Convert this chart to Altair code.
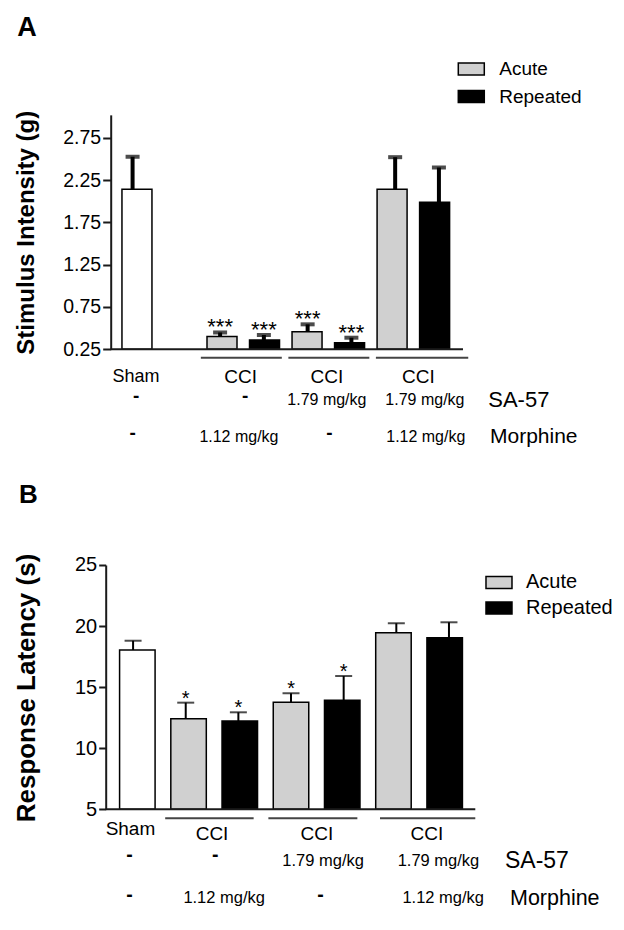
import altair as alt
import pandas as pd

FONT = "Liberation Sans"

# ---------------- data ----------------
treat = ["Sham", "Acute", "Repeated", "Acute", "Repeated", "Acute", "Repeated"]

# Panel A: stimulus intensity (g)
a_slot = [0, 2, 3, 4, 5, 6, 7]
a_mean = [2.14, 0.40, 0.36, 0.458, 0.328, 2.14, 1.987]
a_sem = [0.385, 0.049, 0.059, 0.087, 0.059, 0.38, 0.411]
a_stars = ["", "***", "***", "***", "***", "", ""]
a_ticks = [0.25, 0.75, 1.25, 1.75, 2.25, 2.75]
a_xdom = [-0.5, 7.55]
a_ydom = [0.25, 3.02]
a_under_start = [1.56, 3.56, 5.56]
a_under_end = [3.41, 5.41, 7.67]
a_names = ["CCI", "CCI", "CCI"]
a_names_slot = [2.47, 4.44, 6.53]
a_sham_slot = [0.08]
a_sa57 = ["-", "-", "1.79 mg/kg", "1.79 mg/kg"]
a_sa57_slot = [0.08, 2.57, 4.44, 6.68]
a_morph = ["-", "1.12 mg/kg", "-", "1.12 mg/kg"]
a_morph_slot = [0.0, 2.43, 4.5, 6.7]

# Panel B: response latency (s)
b_slot = [0, 1, 2, 3, 4, 5, 6]
b_mean = [18.04, 12.42, 12.23, 13.76, 13.92, 19.46, 19.05]
b_sem = [0.76, 1.31, 0.71, 0.74, 1.99, 0.77, 1.26]
b_stars = ["", "*", "*", "*", "*", "", ""]
b_ticks = [5, 10, 15, 20, 25]
b_xdom = [-0.52, 6.5]
b_ydom = [5, 25]
b_under_start = [0.61, 2.57, 4.69]
b_under_end = [2.29, 4.26, 6.5]
b_names = ["CCI", "CCI", "CCI"]
b_names_slot = [1.5, 3.49, 5.58]
b_sham_slot = [-0.05]
b_sa57 = ["-", "-", "1.79 mg/kg", "1.79 mg/kg"]
b_sa57_slot = [-0.07, 1.56, 3.61, 5.8]
b_morph = ["-", "1.12 mg/kg", "-", "1.12 mg/kg"]
b_morph_slot = [-0.07, 1.73, 3.56, 5.89]

color_scale = alt.Scale(domain=["Sham", "Acute", "Repeated"],
                        range=["#ffffff", "#d0d0d0", "#000000"])
LEG_PATH = "M-1,-0.46H1V0.46H-1Z"


def text_layer(texts, slots, xscale, ypx, size, only=None):
    rows = [(t, s) for t, s in zip(texts, slots)
            if only is None or (only == "dash") == (t == "-")]
    df = pd.DataFrame({"t": [r[0] for r in rows], "s": [r[1] for r in rows]})
    dash = only == "dash"
    return alt.Chart(df).mark_text(font=FONT, fontSize=(size + 3) if dash else size,
                                   fontWeight="bold" if dash else "normal",
                                   baseline="middle", align="center", color="black").encode(
        x=alt.X("s:Q", scale=xscale, axis=None),
        y=alt.value(ypx),
        text="t:N",
    )


def label(txt, xpx, ypx, size, weight="normal", baseline="middle"):
    return alt.Chart(pd.DataFrame({"t": [txt]})).mark_text(
        font=FONT, fontSize=size, fontWeight=weight, align="left",
        baseline=baseline, color="black").encode(
        x=alt.value(xpx), y=alt.value(ypx), text="t:N")


def panel(slot, mean, sem, stars, ticks, xdom, xrange_, ydom, yrange_, title,
          axis_offset, title_x, title_y, tick_size, label_size, title_size,
          bar_w, err_w, cap_w, star_size, leg_x, leg_y, leg_size, leg_off, leg_pad,
          fmt, u_start, u_end, u_y, base_w):
    xs = alt.Scale(domain=xdom, range=xrange_, nice=False, zero=False)
    ys = alt.Scale(domain=ydom, range=yrange_, nice=False, zero=False)
    df = pd.DataFrame({"slot": slot, "mean": mean, "sem": sem,
                       "treat": treat, "star": stars})
    df["top"] = df["mean"] + df["sem"]
    base = alt.Chart(df)
    yaxis = alt.Axis(values=ticks, format=fmt, orient="left", offset=axis_offset,
                     grid=False, domainColor="#1a1a1a", domainWidth=2,
                     tickColor="#1a1a1a", tickWidth=2, tickSize=tick_size,
                     labelFont=FONT, labelFontSize=label_size, labelColor="black",
                     labelPadding=2, title=title, titleFont=FONT,
                     titleFontSize=title_size, titleFontWeight="bold",
                     titleColor="black", titleAngle=270, titleBaseline="alphabetic",
                     titleAlign="center", titleX=title_x, titleY=title_y)
    bars = base.mark_bar(size=bar_w, stroke="black", strokeWidth=1.5).encode(
        x=alt.X("slot:Q", scale=xs, axis=None),
        y=alt.Y("mean:Q", scale=ys, axis=yaxis),
        y2=alt.datum(ydom[0]),
        color=alt.Color("treat:N", scale=color_scale,
                        legend=alt.Legend(title=None, orient="none", legendX=leg_x,
                                          legendY=leg_y, values=["Acute", "Repeated"],
                                          symbolType=LEG_PATH, symbolSize=676,
                                          symbolStrokeColor="black",
                                          symbolStrokeWidth=1.5, symbolOpacity=1,
                                          labelFont=FONT, labelFontSize=leg_size,
                                          labelColor="black", labelOffset=leg_off,
                                          rowPadding=leg_pad, padding=0)),
    )
    stems = base.mark_rule(color="black", strokeWidth=err_w).encode(
        x=alt.X("slot:Q", scale=xs, axis=None),
        y=alt.Y("mean:Q", scale=ys, axis=None), y2="top:Q")
    caps = base.mark_tick(orient="horizontal", size=cap_w, thickness=err_w,
                          color="black").encode(
        x=alt.X("slot:Q", scale=xs, axis=None),
        y=alt.Y("top:Q", scale=ys, axis=None))
    starm = base.mark_text(font=FONT, fontSize=star_size, baseline="alphabetic",
                           dy=2, color="black").encode(
        x=alt.X("slot:Q", scale=xs, axis=None),
        y=alt.Y("top:Q", scale=ys, axis=None), text="star:N")
    bl = alt.Chart(pd.DataFrame({"x": [xdom[0]], "x2": [xdom[1]], "y": [ydom[0]]})).mark_rule(
        color="#1a1a1a", strokeWidth=base_w).encode(
        x=alt.X("x:Q", scale=xs, axis=None), x2="x2:Q",
        y=alt.Y("y:Q", scale=ys, axis=None))
    under = alt.Chart(pd.DataFrame({"s": u_start, "e": u_end})).mark_rule(
        color="#444444", strokeWidth=2).encode(
        x=alt.X("s:Q", scale=xs, axis=None), x2="e:Q", y=alt.value(u_y))
    return [bars, stems, caps, starm, bl, under], xs


# ---------------- panel A ----------------
a_layers, xa = panel(a_slot, a_mean, a_sem, a_stars, a_ticks, a_xdom, [5, 357.3],
                     a_ydom, [341.3, 106.85], "Stimulus Intensity (g)",
                     -5, -77.5, 224.2, 8, 19.5, 24, 30, 4, 14, 22,
                     351.6, 47, 19, 14, 3.5, ".2f",
                     a_under_start, a_under_end, 349.7, 2)
a_layers += [
    text_layer(["Sham"], a_sham_slot, xa, 369, 18),
    text_layer(a_names, a_names_slot, xa, 369, 19),
    text_layer(a_sa57, a_sa57_slot, xa, 392, 16, only="text"),
    text_layer(a_sa57, a_sa57_slot, xa, 388, 16, only="dash"),
    text_layer(a_morph, a_morph_slot, xa, 428.7, 16, only="text"),
    text_layer(a_morph, a_morph_slot, xa, 425.3, 16, only="dash"),
    label("SA-57", 382.6, 392, 22),
    label("Morphine", 384.3, 428.7, 21),
    label("A", -88.4, 28, 27, weight="bold", baseline="alphabetic"),
]

# ---------------- panel B ----------------
b_layers, xb = panel(b_slot, b_mean, b_sem, b_stars, b_ticks, b_xdom, [0, 369.6],
                     b_ydom, [801.3, 557], "Response Latency (s)",
                     0, -71.1, 679.5, 7, 20, 26, 35.5, 2, 17, 20,
                     379.3, 560.5, 20, 13, 1.5, "d",
                     b_under_start, b_under_end, 810.3, 2)
b_layers += [
    text_layer(["Sham"], b_sham_slot, xb, 821, 19),
    text_layer(b_names, b_names_slot, xb, 826, 19),
    text_layer(b_sa57, b_sa57_slot, xb, 853, 16.5, only="text"),
    text_layer(b_sa57, b_sa57_slot, xb, 847, 16.5, only="dash"),
    text_layer(b_morph, b_morph_slot, xb, 890.5, 16.5, only="text"),
    text_layer(b_morph, b_morph_slot, xb, 887, 16.5, only="dash"),
    label("SA-57", 399.3, 853, 23),
    label("Morphine", 404.3, 891.3, 21.5),
    label("B", -86.7, 495.3, 26, weight="bold", baseline="alphabetic"),
]

chart = alt.layer(*a_layers, *b_layers).resolve_scale(
    x="independent", y="independent", color="independent"
).properties(
    width=510, height=914,
    padding={"left": 97.7, "top": 0, "right": 0, "bottom": 0},
    autosize=alt.AutoSizeParams(type="none"),
    background="white",
).configure_view(strokeWidth=0, stroke="transparent")

chart.save("out.html", embed_options={"renderer": "svg", "actions": False})
